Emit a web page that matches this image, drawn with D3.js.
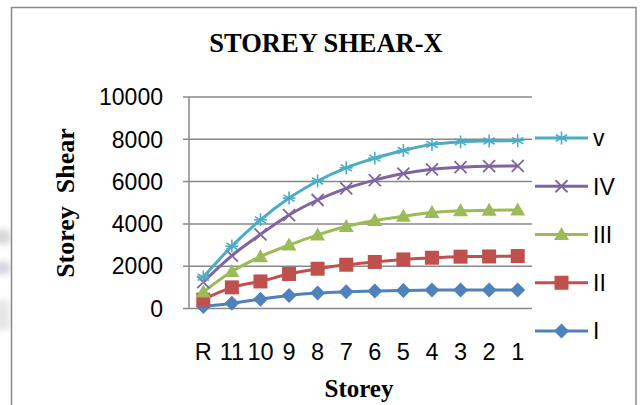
<!DOCTYPE html>
<html>
<head>
<meta charset="utf-8">
<script src="https://cdn.jsdelivr.net/npm/d3@7"></script>
<style>
  html, body { margin: 0; padding: 0; background: #ffffff; }
  svg { display: block; }
</style>
</head>
<body>
<svg id="chart" width="644" height="405"></svg>
<script>
// Storey shear along X for five load cases, from roof (R) down to storey 1
const storeys = ["R", "11", "10", "9", "8", "7", "6", "5", "4", "3", "2", "1"];
const shearI   = [100, 250, 440, 620, 730, 790, 830, 850, 870, 880, 880, 880];
const shearII  = [420, 1000, 1280, 1630, 1880, 2070, 2200, 2320, 2400, 2450, 2460, 2480];
const shearIII = [780, 1750, 2450, 3000, 3480, 3880, 4160, 4360, 4540, 4620, 4640, 4660];
const shearIV  = [1250, 2500, 3500, 4420, 5130, 5680, 6070, 6380, 6580, 6680, 6730, 6740];
const shearV   = [1480, 2950, 4190, 5220, 6030, 6650, 7110, 7470, 7760, 7880, 7920, 7940];
const seriesNames = ["v", "IV", "III", "II", "I"];
const yTicks = [0, 2000, 4000, 6000, 8000, 10000];

const series = [
  { name: seriesNames[0], values: shearV,   color: "#4BACC6", marker: "asterisk" },
  { name: seriesNames[1], values: shearIV,  color: "#8064A2", marker: "cross" },
  { name: seriesNames[2], values: shearIII, color: "#9BBB59", marker: "triangle" },
  { name: seriesNames[3], values: shearII,  color: "#C0504D", marker: "square" },
  { name: seriesNames[4], values: shearI,   color: "#4F81BD", marker: "diamond" }
];

const svg = d3.select("#chart");

// faint page background showing at the left edge
const defs = svg.append("defs");
defs.append("filter").attr("id", "soft").append("feGaussianBlur").attr("stdDeviation", 3);
const bg = svg.append("g").attr("filter", "url(#soft)");
bg.append("rect").attr("x", -6).attr("y", 230).attr("width", 16).attr("height", 14).attr("fill", "#d6d6d6");
bg.append("rect").attr("x", -6).attr("y", 262).attr("width", 16).attr("height", 12).attr("fill", "#d4d2e0");
bg.append("rect").attr("x", -6).attr("y", 300).attr("width", 16).attr("height", 30).attr("fill", "#e6e6e6");

// chart frame
svg.append("rect")
  .attr("x", 11.5).attr("y", 7.5).attr("width", 624.5).attr("height", 410)
  .attr("fill", "#ffffff").attr("stroke", "#8a8a8a").attr("stroke-width", 1.5);

const plot = { left: 189, right: 532, top: 97, bottom: 308.5 };

const x = d3.scalePoint().domain(storeys).range([plot.left, plot.right]).padding(0.5);
const y = d3.scaleLinear().domain([0, 10000]).range([plot.bottom, plot.top]);

// horizontal gridlines with outside ticks
svg.append("g").selectAll("line").data(yTicks).join("line")
  .attr("x1", plot.left - 6).attr("x2", plot.right)
  .attr("y1", d => y(d)).attr("y2", d => y(d))
  .attr("stroke", "#888888").attr("stroke-width", 1.5);

// vertical value axis line
svg.append("line")
  .attr("x1", plot.left).attr("x2", plot.left)
  .attr("y1", y(10000)).attr("y2", y(0))
  .attr("stroke", "#888888").attr("stroke-width", 1.5);

const tickFont = "'Liberation Sans', Arial, sans-serif";

// y tick labels
svg.append("g").selectAll("text").data(yTicks).join("text")
  .attr("x", 163).attr("y", d => y(d))
  .attr("dy", "0.36em")
  .attr("text-anchor", "end")
  .attr("font-family", tickFont).attr("font-size", 23)
  .attr("fill", "#000")
  .text(d => d);

// x tick labels
svg.append("g").selectAll("text").data(storeys).join("text")
  .attr("x", d => x(d)).attr("y", 360)
  .attr("text-anchor", "middle")
  .attr("font-family", tickFont).attr("font-size", 23.5)
  .attr("fill", "#000")
  .text(d => d);

// marker shapes
function drawMarker(g, kind, cx, cy, color) {
  const m = g.append("g").attr("transform", `translate(${cx},${cy})`);
  if (kind === "asterisk") {
    const r = 6.5;
    [0, 60, 120].forEach(a => {
      const rad = a * Math.PI / 180;
      m.append("line")
        .attr("x1", -r * Math.sin(rad)).attr("y1", -r * Math.cos(rad))
        .attr("x2", r * Math.sin(rad)).attr("y2", r * Math.cos(rad))
        .attr("stroke", color).attr("stroke-width", 1.6);
    });
    m.append("line").attr("x1", -r).attr("x2", r).attr("y1", 0).attr("y2", 0)
      .attr("stroke", color).attr("stroke-width", 1.6);
  } else if (kind === "cross") {
    const r = 6;
    m.append("path").attr("d", `M${-r},${-r}L${r},${r}M${-r},${r}L${r},${-r}`)
      .attr("stroke", color).attr("stroke-width", 1.8).attr("fill", "none");
  } else if (kind === "triangle") {
    m.append("path").attr("d", "M0,-7.5L7.5,5.5L-7.5,5.5Z").attr("fill", color);
  } else if (kind === "square") {
    m.append("rect").attr("x", -7).attr("y", -7).attr("width", 14).attr("height", 14).attr("fill", color);
  } else if (kind === "diamond") {
    m.append("path").attr("d", "M0,-7.5L7.5,0L0,7.5L-7.5,0Z").attr("fill", color);
  }
}

const line = d3.line()
  .x((d, i) => x(storeys[i]))
  .y(d => y(d))
  .curve(d3.curveMonotoneX);

// draw series bottom-up so the upper curves sit on top
series.slice().reverse().forEach(s => {
  const g = svg.append("g");
  g.append("path")
    .attr("d", line(s.values))
    .attr("fill", "none")
    .attr("stroke", s.color)
    .attr("stroke-width", 3)
    .attr("stroke-linejoin", "round");
  s.values.forEach((v, i) => drawMarker(g, s.marker, x(storeys[i]), y(v), s.color));
});

// legend
const legendY = d3.scalePoint().domain(seriesNames).range([138, 331]);
series.forEach(s => {
  const ly = legendY(s.name);
  const g = svg.append("g");
  g.append("line").attr("x1", 535).attr("x2", 588).attr("y1", ly).attr("y2", ly)
    .attr("stroke", s.color).attr("stroke-width", 3);
  drawMarker(g, s.marker, 561.5, ly, s.color);
  g.append("text")
    .attr("x", 593).attr("y", ly).attr("dy", "0.36em")
    .attr("font-family", tickFont).attr("font-size", 23)
    .attr("fill", "#000")
    .text(s.name);
});

// titles
const serif = "'Liberation Serif', 'Times New Roman', serif";
svg.append("text")
  .attr("x", 326).attr("y", 52)
  .attr("text-anchor", "middle")
  .attr("font-family", serif).attr("font-weight", "bold").attr("font-size", 26.5)
  .text("STOREY SHEAR-X");

svg.append("text")
  .attr("x", 359).attr("y", 397)
  .attr("text-anchor", "middle")
  .attr("font-family", serif).attr("font-weight", "bold").attr("font-size", 25)
  .text("Storey");

svg.append("text")
  .attr("transform", "translate(74,203) rotate(-90)")
  .attr("text-anchor", "middle")
  .attr("font-family", serif).attr("font-weight", "bold").attr("font-size", 26)
  .attr("xml:space", "preserve")
  .style("white-space", "pre")
  .text("Storey  Shear");
</script>
</body>
</html>
